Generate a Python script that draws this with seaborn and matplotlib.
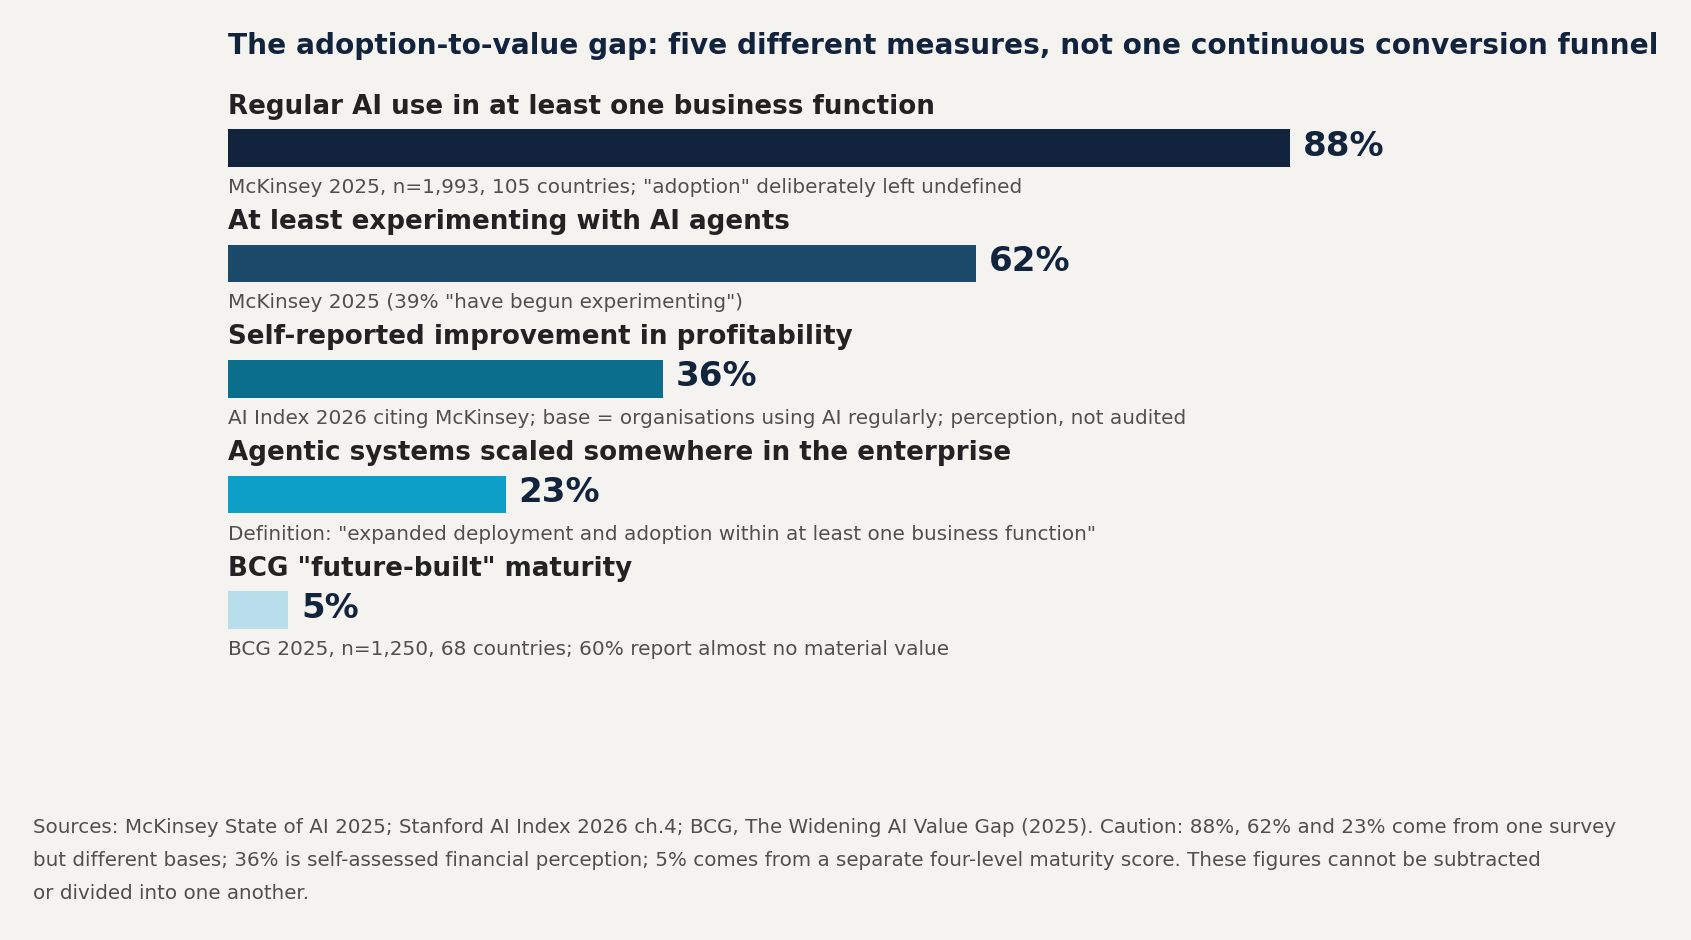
import matplotlib
matplotlib.use("Agg")
import matplotlib.pyplot as plt
from matplotlib import font_manager as fm
import seaborn as sns
import pandas as pd

categories = [
    "Regular AI use in at least one business function",
    "At least experimenting with AI agents",
    "Self-reported improvement in profitability",
    "Agentic systems scaled somewhere in the enterprise",
    'BCG "future-built" maturity',
]
values = [88, 62, 36, 23, 5]
value_labels = ["88%", "62%", "36%", "23%", "5%"]
notes = [
    'McKinsey 2025, n=1,993, 105 countries; "adoption" deliberately left undefined',
    'McKinsey 2025 (39% "have begun experimenting")',
    "AI Index 2026 citing McKinsey; base = organisations using AI regularly; perception, not audited",
    'Definition: "expanded deployment and adoption within at least one business function"',
    "BCG 2025, n=1,250, 68 countries; 60% report almost no material value",
]
bar_colors = ["#12233d", "#1b4a6b", "#0b6e8c", "#0e9fc8", "#b8deeb"]
title = "The adoption-to-value gap: five different measures, not one continuous conversion funnel"
footnote = (
    "Sources: McKinsey State of AI 2025; Stanford AI Index 2026 ch.4; BCG, The Widening AI Value Gap (2025). "
    "Caution: 88%, 62% and 23% come from one survey\n"
    "but different bases; 36% is self-assessed financial perception; 5% comes from a separate four-level "
    "maturity score. These figures cannot be subtracted\n"
    "or divided into one another."
)

BG = "#f4f3ef"
sns.set_theme(style="white")
plt.rcParams["font.family"] = ["DejaVu Sans"]

def fp(size, bold=False):
    return fm.FontProperties(family="DejaVu Sans", size=size,
                             weight="bold" if bold else "normal")

W, H = 1691, 940
fig = plt.figure(figsize=(W / 100, H / 100), dpi=100, facecolor=BG)

left_px, width_px = 228, 1207
row = 115.5
c0, c4 = 148, 610
top_px = c0 - row / 2
bot_px = c4 + row / 2
ax = fig.add_axes([left_px / W, 1 - bot_px / H, width_px / W, (bot_px - top_px) / H])
ax.set_facecolor(BG)

df = pd.DataFrame({"category": categories, "value": values})
sns.barplot(data=df, x="value", y="category", hue="category", palette=bar_colors,
            orient="h", width=0.325, legend=False, ax=ax, saturation=1, linewidth=0)
ax.set_xlim(0, 100)
ax.set_ylim(4.5, -0.5)
ax.axis("off")

px_per_unit = width_px / 100
for i, (cat, v, lab, note) in enumerate(zip(categories, values, value_labels, notes)):
    ax.text(0, i - 34.5 / row, cat, ha="left", va="baseline", fontproperties=fp(18.85, True),
            color="#222222", clip_on=False)
    ax.text(v + 13 / px_per_unit, i - 2 / row, lab, ha="left", va="center",
            fontproperties=fp(24.5, True), color="#12233d", clip_on=False)
    ax.text(0, i + 45 / row, note, ha="left", va="baseline", fontproperties=fp(14.4),
            color="#4f4f4f", clip_on=False)

fig.text(left_px / W, 1 - 54 / H, title, ha="left", va="baseline",
         fontproperties=fp(20.2, True), color="#12233d")
fig.text(33 / W, 1 - 899 / H, footnote, ha="left", va="baseline",
         fontproperties=fp(14.35), color="#4f4f4f", linespacing=1.93)

fig.savefig("out.png", dpi=100, facecolor=BG)
